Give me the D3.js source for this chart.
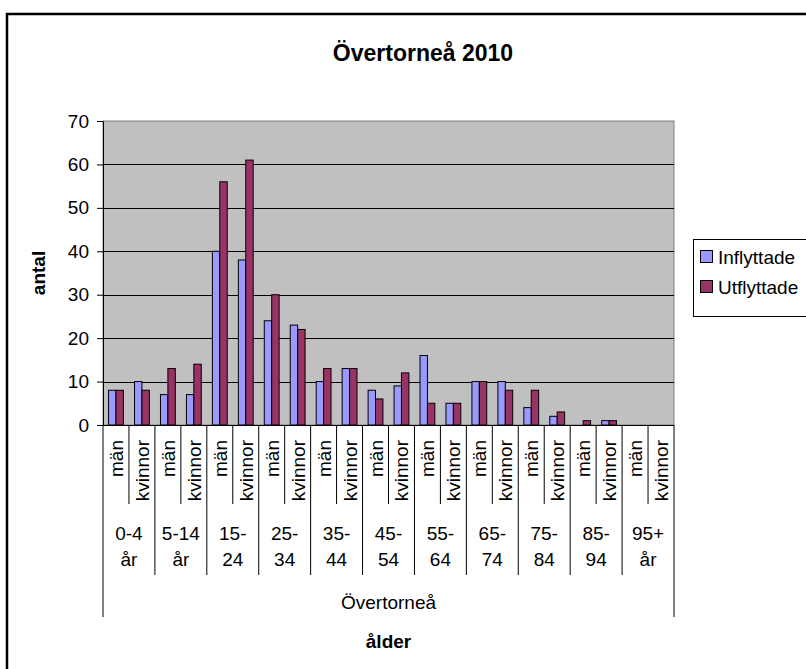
<!DOCTYPE html>
<html>
<head>
<meta charset="utf-8">
<script src="https://cdn.jsdelivr.net/npm/d3@7"></script>
<style>
  body { margin: 0; background: #fff; }
  text { font-family: "Liberation Sans", Arial, sans-serif; fill: #000; }
</style>
</head>
<body>
<svg id="chart" width="806" height="669"></svg>
<script>
// age groups, two lines each as in the reference
var ageGroups = [["0-4", "år"], ["5-14", "år"], ["15-", "24"], ["25-", "34"], ["35-", "44"],
                 ["45-", "54"], ["55-", "64"], ["65-", "74"], ["75-", "84"], ["85-", "94"], ["95+", "år"]];
var genders = ["män", "kvinnor"];
var inflyttade = [8, 10, 7, 7, 40, 38, 24, 23, 10, 13, 8, 9, 16, 5, 10, 10, 4, 2, 0, 1, 0, 0];
var utflyttade = [8, 8, 13, 14, 56, 61, 30, 22, 13, 13, 6, 12, 5, 5, 10, 8, 8, 3, 1, 1, 0, 0];
var seriesNames = ["Inflyttade", "Utflyttade"];
var seriesColors = ["#9999ff", "#993366"];
var yTicks = [0, 10, 20, 30, 40, 50, 60, 70];

var svg = d3.select("#chart");

// plot area edges
var pLeft = 103, pRight = 674, pTop = 121, pBottom = 425;

// chart border (runs off the right and bottom of the picture)
svg.append("rect")
    .attr("x", 7).attr("y", 14)
    .attr("width", 900).attr("height", 700)
    .attr("fill", "none").attr("stroke", "#000").attr("stroke-width", 2.5);

// one row per bar category
var cats = [];
ageGroups.forEach(function (g, gi) {
    genders.forEach(function (s, si) {
        cats.push({ id: gi + "-" + si, group: gi, gender: s, i: cats.length });
    });
});
cats.forEach(function (c) {
    c.values = [inflyttade[c.i], utflyttade[c.i]];
});

var x = d3.scaleBand().domain(cats.map(function (d) { return d.id; }))
    .range([pLeft, pRight]).paddingInner(0).paddingOuter(0);
var xg = d3.scaleBand().domain(ageGroups.map(function (d, i) { return i; }))
    .range([pLeft, pRight]);
var x1 = d3.scaleBand().domain([0, 1]).range([0, x.bandwidth()])
    .paddingInner(0).paddingOuter(0.75);
var y = d3.scaleLinear().domain([0, 70]).range([pBottom, pTop]);

// plot area
svg.append("rect")
    .attr("x", pLeft).attr("y", pTop)
    .attr("width", pRight - pLeft).attr("height", pBottom - pTop)
    .attr("fill", "#c0c0c0").attr("stroke", "#808080").attr("stroke-width", 1);

// gridlines
svg.append("g").selectAll("line")
    .data(yTicks.filter(function (t) { return t > 0 && t < 70; }))
    .enter().append("line")
    .attr("x1", pLeft).attr("x2", pRight)
    .attr("y1", function (d) { return Math.round(y(d)) + 0.5; })
    .attr("y2", function (d) { return Math.round(y(d)) + 0.5; })
    .attr("stroke", "#000").attr("stroke-width", 1);

// bars
var catG = svg.append("g").selectAll("g")
    .data(cats).enter().append("g")
    .attr("transform", function (d) { return "translate(" + x(d.id) + ",0)"; });

catG.selectAll("rect")
    .data(function (d) { return d.values.map(function (v, k) { return { v: v, k: k }; }); })
    .enter().append("rect")
    .filter(function (d) { return d.v > 0; })
    .attr("x", function (d) { return x1(d.k); })
    .attr("width", x1.bandwidth())
    .attr("y", function (d) { return y(d.v); })
    .attr("height", function (d) { return y(0) - y(d.v); })
    .attr("fill", function (d) { return seriesColors[d.k]; })
    .attr("stroke", "#000").attr("stroke-width", 1);

// y axis
var yAxis = d3.axisLeft(y).tickValues(yTicks).tickSize(6).tickPadding(8);
var ya = svg.append("g").attr("transform", "translate(" + pLeft + ",0)").call(yAxis);
ya.select(".domain").attr("stroke", "#000");
ya.selectAll("text").style("font-size", "19px").style("font-family", "Liberation Sans, Arial, sans-serif");

// x axis line
svg.append("line")
    .attr("x1", pLeft).attr("x2", pRight).attr("y1", pBottom + 0.5).attr("y2", pBottom + 0.5)
    .attr("stroke", "#000");

// multi-level category labels
var lab = svg.append("g");
lab.selectAll("text.gender")
    .data(cats).enter().append("text")
    .attr("class", "gender")
    .attr("transform", function (d) {
        return "translate(" + (x(d.id) + x.bandwidth() / 2 + 7) + ",440) rotate(-90)";
    })
    .attr("text-anchor", "end")
    .style("font-size", "19px")
    .text(function (d) { return d.gender; });

// separators between män and kvinnor
lab.selectAll("line.sub")
    .data(cats.filter(function (d) { return d.gender === "kvinnor"; }))
    .enter().append("line")
    .attr("x1", function (d) { return x(d.id); })
    .attr("x2", function (d) { return x(d.id); })
    .attr("y1", pBottom).attr("y2", 504)
    .attr("stroke", "#000");

// separators between age groups
lab.selectAll("line.grp")
    .data(ageGroups.slice(1))
    .enter().append("line")
    .attr("x1", function (d, i) { return xg(i + 1); })
    .attr("x2", function (d, i) { return xg(i + 1); })
    .attr("y1", pBottom).attr("y2", 575)
    .attr("stroke", "#000");

[pLeft, pRight].forEach(function (xx) {
    lab.append("line")
        .attr("x1", xx).attr("x2", xx).attr("y1", pBottom).attr("y2", 617)
        .attr("stroke", "#000");
});

var gl = lab.selectAll("text.grp")
    .data(ageGroups).enter().append("text")
    .attr("class", "grp")
    .attr("text-anchor", "middle")
    .style("font-size", "19px");
gl.append("tspan")
    .attr("x", function (d, i) { return xg(i) + xg.bandwidth() / 2; })
    .attr("y", 540)
    .text(function (d) { return d[0]; });
gl.append("tspan")
    .attr("x", function (d, i) { return xg(i) + xg.bandwidth() / 2; })
    .attr("y", 566)
    .text(function (d) { return d[1]; });

lab.append("text")
    .attr("x", (pLeft + pRight) / 2).attr("y", 609)
    .attr("text-anchor", "middle").style("font-size", "19px")
    .text("Övertorneå");

// axis titles
svg.append("text")
    .attr("x", (pLeft + pRight) / 2).attr("y", 648)
    .attr("text-anchor", "middle").style("font-size", "19px").style("font-weight", "bold")
    .text("ålder");

svg.append("text")
    .attr("transform", "translate(45," + ((pTop + pBottom) / 2) + ") rotate(-90)")
    .attr("text-anchor", "middle").style("font-size", "19px").style("font-weight", "bold")
    .text("antal");

// title
svg.append("text")
    .attr("x", 423).attr("y", 61)
    .attr("text-anchor", "middle").style("font-size", "23px").style("font-weight", "bold")
    .text("Övertorneå 2010");

// legend
var lg = svg.append("g");
lg.append("rect")
    .attr("x", 693.5).attr("y", 239.5).attr("width", 200).attr("height", 77)
    .attr("fill", "#fff").attr("stroke", "#000");
seriesNames.forEach(function (name, k) {
    var cy = 257 + k * 30;
    lg.append("rect")
        .attr("x", 700.5).attr("y", cy - 6.5).attr("width", 12).attr("height", 12)
        .attr("fill", seriesColors[k]).attr("stroke", "#000");
    lg.append("text")
        .attr("x", 718).attr("y", cy + 7)
        .style("font-size", "19px")
        .text(name);
});
</script>
</body>
</html>
